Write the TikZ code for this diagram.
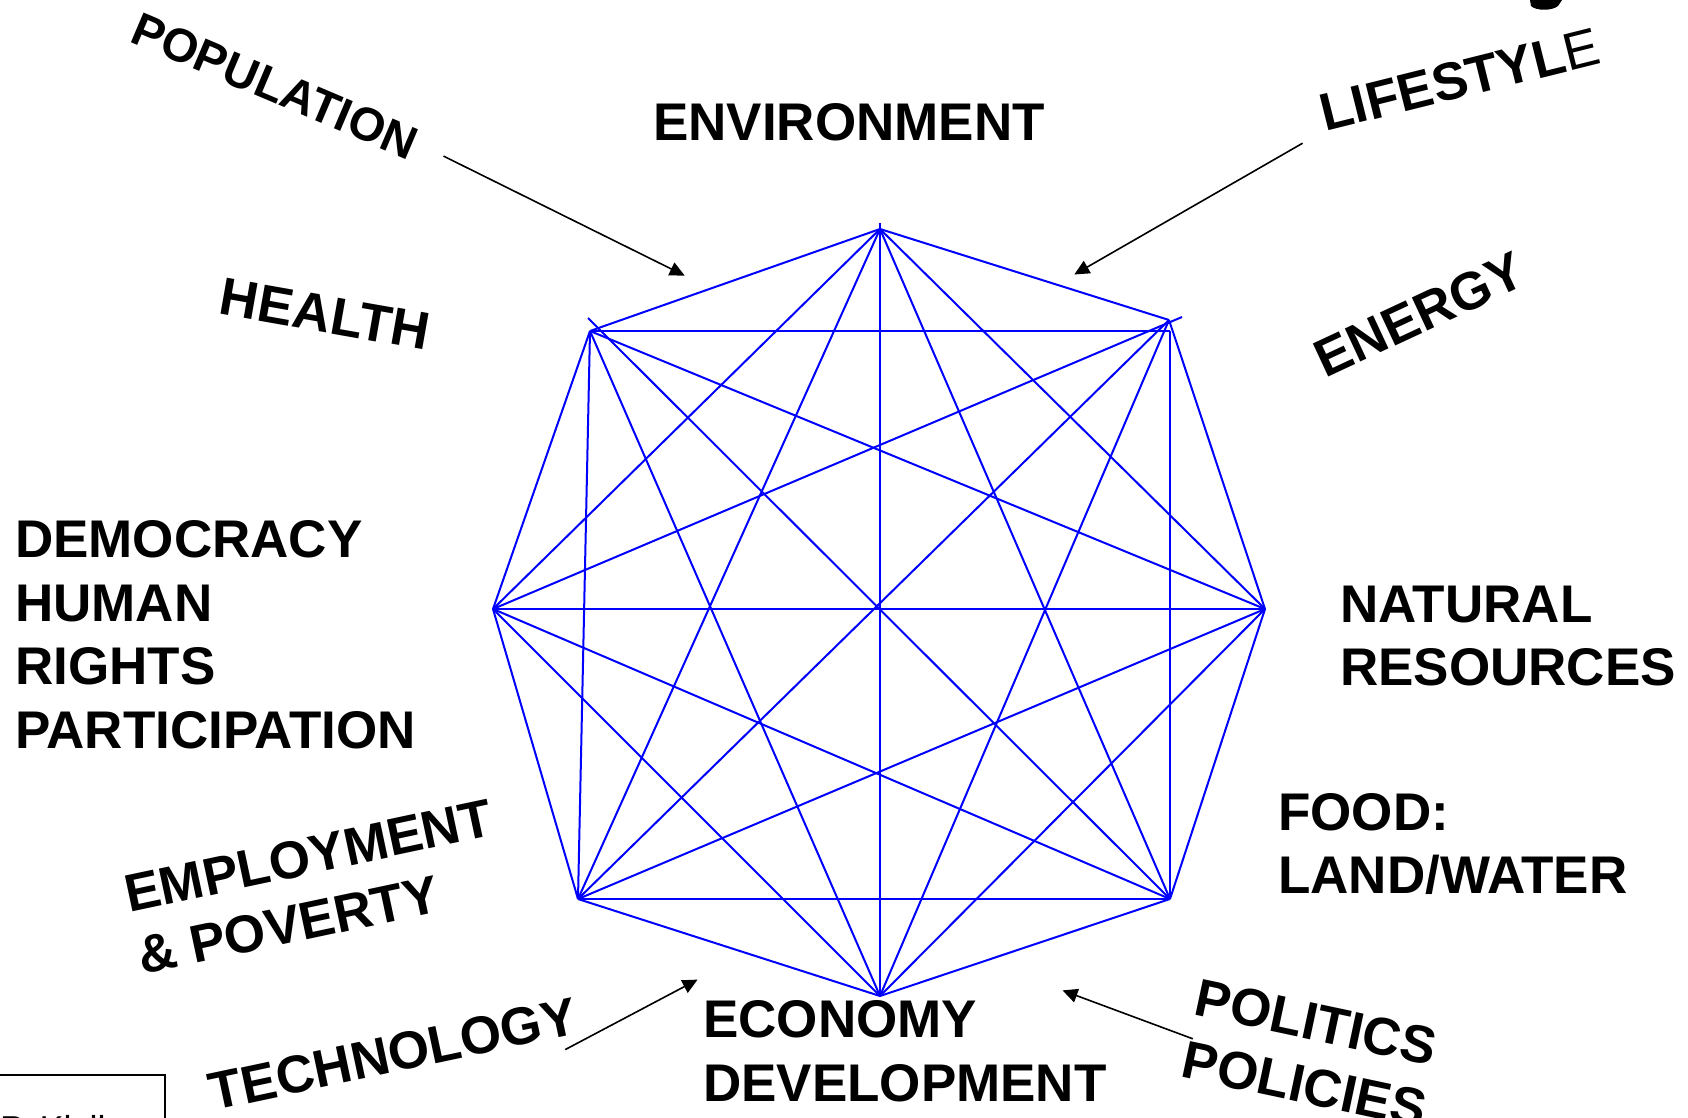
\documentclass[tikz,border=0pt]{standalone}
\usepackage{fontspec}
\setmainfont{Liberation Sans}
\usetikzlibrary{arrows.meta}
\begin{document}
\begin{tikzpicture}[x=1pt,y=-1pt,
  web/.style={draw=blue, line width=2pt},
  lbl/.style={font=\fontsize{53}{63.5}\selectfont\bfseries, inner sep=0pt, align=left, text=black},
  ptr/.style={draw=black, line width=1.6pt, -{Triangle[length=15pt,width=14pt]}}]
\useasboundingbox (0,0) rectangle (1688,1118);
\clip (0,0) rectangle (1688,1118);
\fill[white] (0,0) rectangle (1688,1118);

% octagon vertices
\coordinate (T)  at (880,229);
\coordinate (TR) at (1169,320);
\coordinate (TRx) at (1182,317);
\coordinate (C)  at (1170,331);
\coordinate (R)  at (1265,609);
\coordinate (BR) at (1170,899);
\coordinate (B)  at (880,996);
\coordinate (BL) at (578,899);
\coordinate (L)  at (493,609);
\coordinate (TL) at (590,331);
\coordinate (TLx) at (588,318);
\coordinate (Ttop) at (880,223);

% web of connections
\draw[web] (T) -- (TR);
\draw[web] (T) -- (R);
\draw[web] (T) -- (BR);
\draw[web] (Ttop) -- (B);
\draw[web] (T) -- (BL);
\draw[web] (T) -- (L);
\draw[web] (T) -- (TL);
\draw[web] (TR) -- (R);
\draw[web] (C) -- (BR);
\draw[web] (TR) -- (B);
\draw[web] (TR) -- (BL);
\draw[web] (TRx) -- (L);
\draw[web] (C) -- (TL);
\draw[web] (R) -- (BR);
\draw[web] (R) -- (B);
\draw[web] (R) -- (BL);
\draw[web] (R) -- (L);
\draw[web] (R) -- (TL);
\draw[web] (BR) -- (B);
\draw[web] (BR) -- (BL);
\draw[web] (BR) -- (L);
\draw[web] (BR) -- (TLx);
\draw[web] (B) -- (BL);
\draw[web] (B) -- (L);
\draw[web] (B) -- (TL);
\draw[web] (BL) -- (L);
\draw[web] (BL) -- (TL);
\draw[web] (L) -- (TL);

% labels (base anchor = baseline of the last line)
\node[lbl, anchor=base west] (env) at (653,141) {ENVIRONMENT};
\node[lbl, anchor=base west] (dem) at (15,748.1) {DEMOCRACY\\HUMAN\\RIGHTS\\PARTICIPATION};
\node[lbl, anchor=base west] (nat) at (1340,685.7) {NATURAL\\RESOURCES};
\node[lbl, anchor=base west] (food) at (1278,893.5) {FOOD:\\LAND/WATER};
\node[lbl, anchor=base west] (eco) at (703,1101.3) {ECONOMY\\DEVELOPMENT};

\node[lbl, font=\fontsize{47}{56}\selectfont\bfseries, rotate=-23] (pop) at (275,86) {POPULATION};
\node[lbl, rotate=14] (life) at (1459.7,79.5) {LIFESTYL{\mdseries E}};
\node[lbl, rotate=-10] (health) at (325,314.3) {HEALTH};
\node[lbl, rotate=25] (energy) at (1419.5,314.5) {ENERGY};
\node[lbl, rotate=12] (emp) at (315,887) {EMPLOYMENT\\\& POVERTY};
\node[lbl, rotate=12] (tech) at (393,1054) {TECHNOLOGY};
\node[lbl, rotate=-12] (pol) at (1311,1053.5) {POLITICS\\POLICIES};

% pointers
\coordinate (popS) at (443.5,156.1);
\coordinate (popE) at (684.7,275.6);
\coordinate (lifS) at (1302.6,143.2);
\coordinate (lifE) at (1074.3,274.5);
\coordinate (tecS) at (565.2,1049.6);
\coordinate (tecE) at (697.6,979.6);
\coordinate (polS) at (1192.8,1038.8);
\coordinate (polE) at (1062.5,990.4);
\draw[ptr] (popS) -- (popE);
\draw[ptr] (lifS) -- (lifE);
\draw[ptr] (tecS) -- (tecE);
\draw[ptr] (polS) -- (polE);

% cut-off fragments at the edges
\fill[black] (1530,0) -- (1531,6) .. controls (1536,11) and (1552,11) .. (1558,6) -- (1562,0) -- cycle;
\node[draw=black, line width=2pt, minimum width=200pt, minimum height=80pt, anchor=north east, inner sep=0pt] (credit) at (165.7,1074) {};
\node[anchor=base west, inner sep=0pt, font=\fontsize{36}{40}\selectfont] (creditText) at (0,1141) {P. Klvik};
\end{tikzpicture}
\end{document}
